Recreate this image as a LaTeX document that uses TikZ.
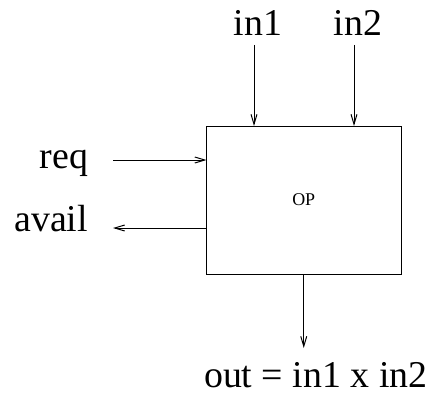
\documentclass[tikz,border=0pt]{standalone}
\usepackage{fontspec}
\setmainfont{Liberation Serif}
\usepackage{tikz}
\usetikzlibrary{ arrows.meta, calc, positioning }
\tikzset{
>={Straight Barb[length=10bp,width=6bp]}, % open xfig style heads
every node/.style={inner sep=0pt, outer sep=0pt},
lbl/.style={font=\fontsize{38}{40}\selectfont}, % port labels
opbox/.style={draw, line width=1bp, minimum width=194.5bp, minimum height=148bp,
  font=\fontsize{18}{20}\selectfont},
}

\begin{document}
\begin{tikzpicture}[x=1bp, y=1bp, line width=1bp]
  \useasboundingbox (0,0) rectangle (437,394);

  % The operator block --------------------------------
  \node[opbox] (op) at (303.75,194) {OP};

  % Inputs on top
  \coordinate (p1) at ([xshift=47.5bp]op.north west);
  \coordinate (p2) at ([xshift=-47bp]op.north east);
  \coordinate[above=81bp of p1] (s1);
  \coordinate[above=81bp of p2] (s2);
  \node[lbl, above=9bp of s1, xshift=4bp] (in1) {in1};
  \node[lbl, above=9bp of s2, xshift=4bp] (in2) {in2};

  % Handshake on the left
  \coordinate (pq) at ([yshift=-34bp]op.north west);
  \coordinate (pa) at ([yshift=-102bp]op.north west);
  \coordinate[left=93.5bp of pq] (sq);
  \coordinate[left=93.5bp of pa] (sa);
  \node[lbl, anchor=base east, xshift=-25bp, yshift=-8bp] (req) at (sq) {req};
  \node[lbl, anchor=base east, xshift=-25bp, yshift=-3bp] (avail) at (sa) {avail};

  % Result below
  \coordinate[below=74bp of op.south] (so);
  \node[lbl, anchor=base, xshift=12bp, yshift=-39bp] (out) at (so) {out = in1 x in2};

  \path[->]
  (s1) edge (p1)
  (s2) edge (p2)
  (sq) edge (pq)
  (pa) edge (sa)
  (op.south) edge (so) ;
\end{tikzpicture}
\end{document}
